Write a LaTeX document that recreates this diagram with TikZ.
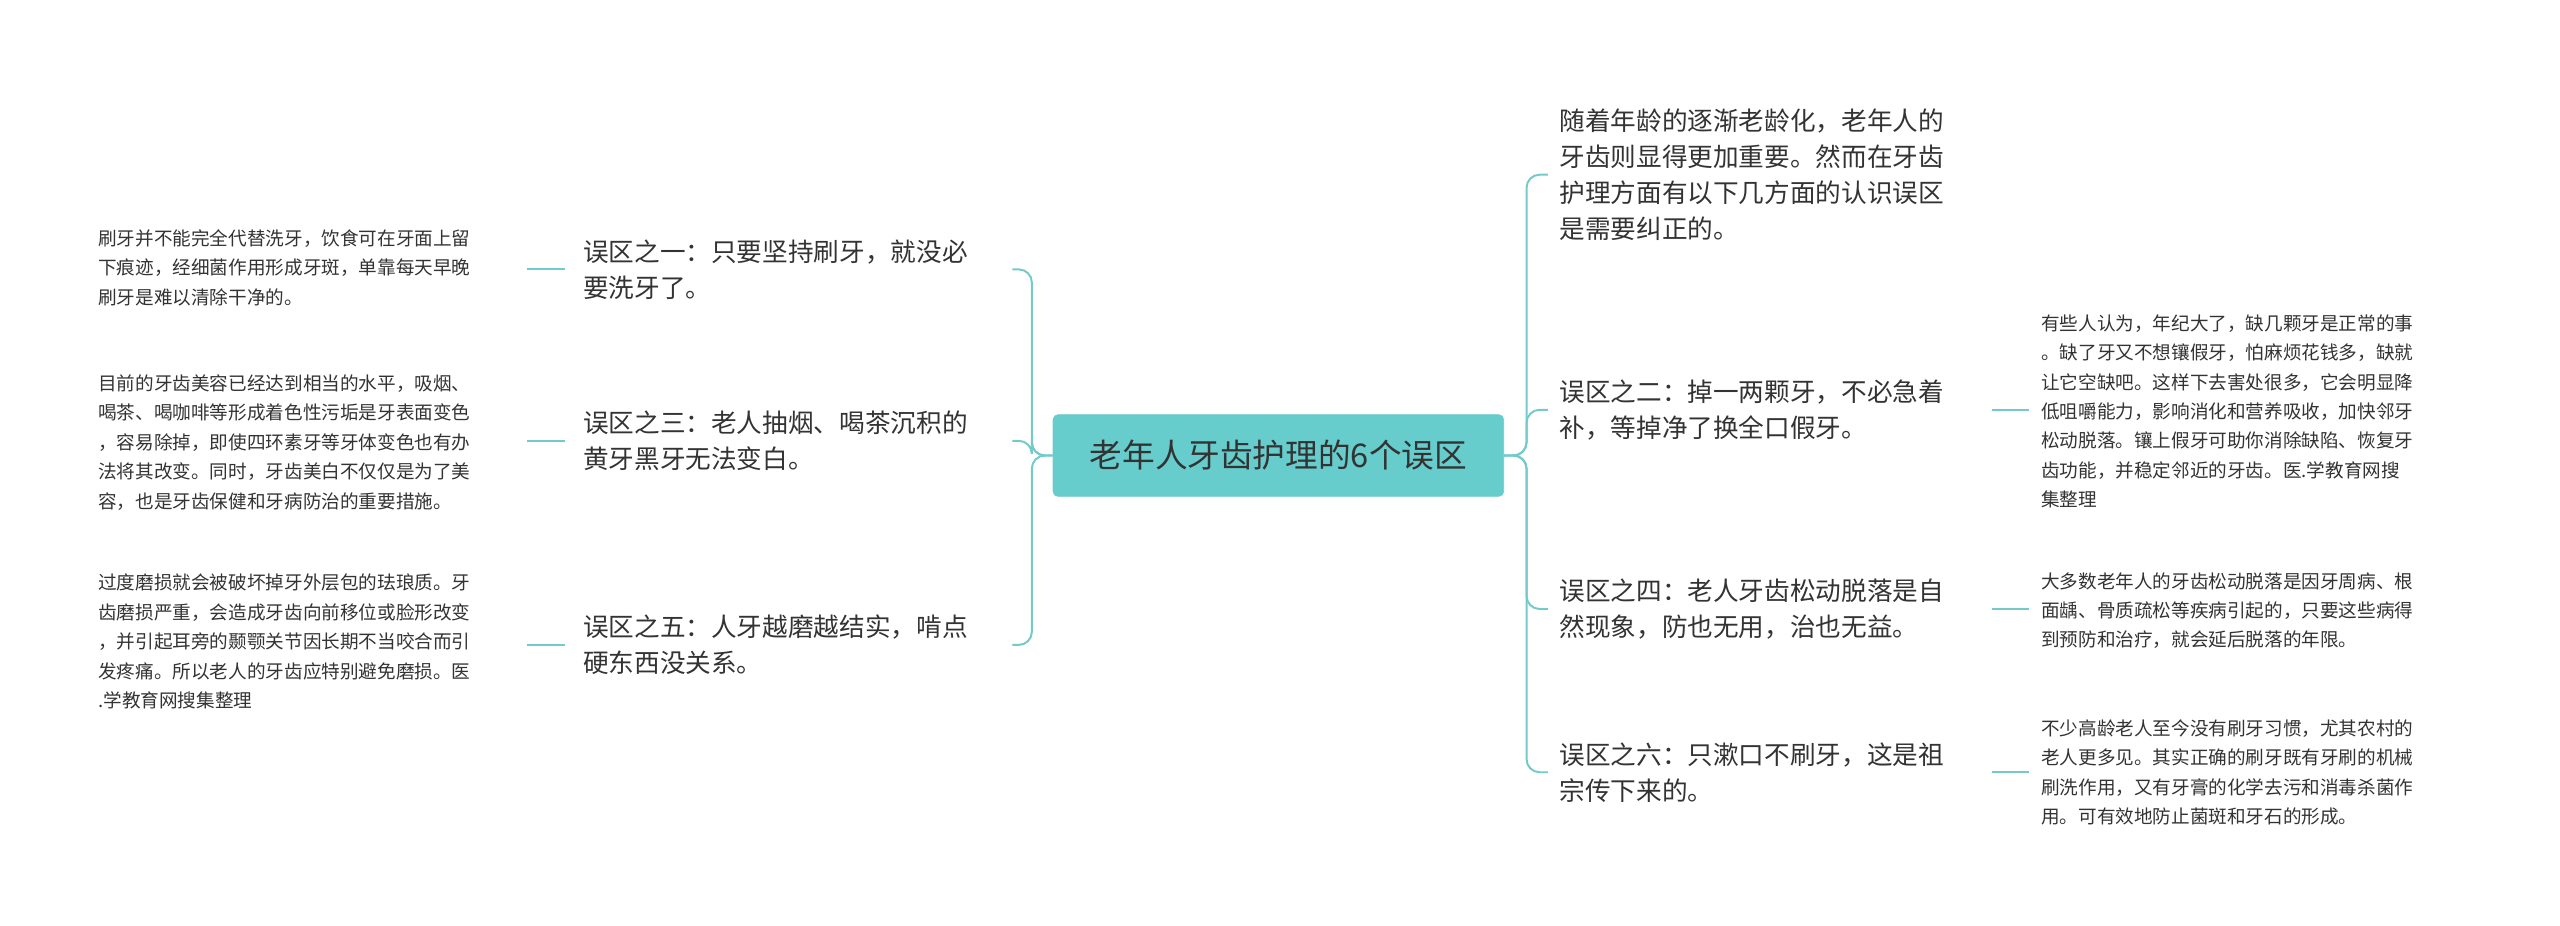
\documentclass[tikz,border=0pt]{standalone}
\usepackage{fontspec}
\setmainfont{Noto Sans CJK SC}
\definecolor{teal1}{HTML}{66CCCC}
\definecolor{line1}{HTML}{72CACA}
\definecolor{txt}{HTML}{333333}
\begin{document}
\begin{tikzpicture}[x=1pt,y=-1pt,
  br/.style={inner sep=0pt,align=left,text=txt,font=\fontsize{15.7}{22}\selectfont},
  lf/.style={inner sep=0pt,align=left,text=txt,font=\fontsize{11.4}{18}\selectfont},
  ln/.style={draw=line1,line width=1.2pt,rounded corners=8pt},
  st/.style={draw=line1,line width=1.2pt}]
\useasboundingbox (0,0) rectangle (1568,567);
\fill[white] (0,0) rectangle (1568,567);
\node[fill=teal1,draw=line1,rounded corners=3pt,minimum width=276pt,minimum height=50pt,inner sep=0pt,font=\fontsize{20}{22}\selectfont,text=txt] (c) at (783,279) {老年人牙齿护理的6个误区};
% left branches
\node[br,anchor=west] (b1) at (357,165) {误区之一：只要坚持刷牙，就没必\\要洗牙了。};
\node[br,anchor=west] (b3) at (357,270) {误区之三：老人抽烟、喝茶沉积的\\黄牙黑牙无法变白。};
\node[br,anchor=west] (b5) at (357,395) {误区之五：人牙越磨越结实，啃点\\硬东西没关系。};
% right branches
\node[br,anchor=west] (r0) at (955,107) {随着年龄的逐渐老龄化，老年人的\\牙齿则显得更加重要。然而在牙齿\\护理方面有以下几方面的认识误区\\是需要纠正的。};
\node[br,anchor=west] (r2) at (955,251) {误区之二：掉一两颗牙，不必急着\\补，等掉净了换全口假牙。};
\node[br,anchor=west] (r4) at (955,373) {误区之四：老人牙齿松动脱落是自\\然现象，防也无用，治也无益。};
\node[br,anchor=west] (r6) at (955,473) {误区之六：只漱口不刷牙，这是祖\\宗传下来的。};
% left leaves
\node[lf,anchor=west] (l1) at (60,164) {刷牙并不能完全代替洗牙，饮食可在牙面上留\\下痕迹，经细菌作用形成牙斑，单靠每天早晚\\刷牙是难以清除干净的。};
\node[lf,anchor=west] (l3) at (60,271) {目前的牙齿美容已经达到相当的水平，吸烟、\\喝茶、喝咖啡等形成着色性污垢是牙表面变色\\，容易除掉，即使四环素牙等牙体变色也有办\\法将其改变。同时，牙齿美白不仅仅是为了美\\容，也是牙齿保健和牙病防治的重要措施。};
\node[lf,anchor=west] (l5) at (60,393) {过度磨损就会被破坏掉牙外层包的珐琅质。牙\\齿磨损严重，会造成牙齿向前移位或脸形改变\\，并引起耳旁的颞颚关节因长期不当咬合而引\\发疼痛。所以老人的牙齿应特别避免磨损。医\\.学教育网搜集整理};
% right leaves
\node[lf,anchor=west] (q2) at (1250,252) {有些人认为，年纪大了，缺几颗牙是正常的事\\。缺了牙又不想镶假牙，怕麻烦花钱多，缺就\\让它空缺吧。这样下去害处很多，它会明显降\\低咀嚼能力，影响消化和营养吸收，加快邻牙\\松动脱落。镶上假牙可助你消除缺陷、恢复牙\\齿功能，并稳定邻近的牙齿。医.学教育网搜\\集整理};
\node[lf,anchor=west] (q4) at (1250,374) {大多数老年人的牙齿松动脱落是因牙周病、根\\面龋、骨质疏松等疾病引起的，只要这些病得\\到预防和治疗，就会延后脱落的年限。};
\node[lf,anchor=west] (q6) at (1250,473) {不少高龄老人至今没有刷牙习惯，尤其农村的\\老人更多见。其实正确的刷牙既有牙刷的机械\\刷洗作用，又有牙膏的化学去污和消毒杀菌作\\用。可有效地防止菌斑和牙石的形成。};
% connectors center -> branches
\foreach \b/\y in {b1/165,b3/270,b5/395}{
  \draw[ln] (c.west) -- (632,279) -- (632,\y) -- (620,\y);}
\foreach \b/\y in {r0/107,r2/251,r4/373,r6/473}{
  \draw[ln] (c.east) -- (935,279) -- (935,\y) -- (948,\y);}
% branch -> leaves
\draw[st] (323,165) -- (346,165);
\draw[st] (323,270) -- (346,270);
\draw[st] (323,395) -- (346,395);
\draw[st] (1220,251) -- (1243,251);
\draw[st] (1220,373) -- (1243,373);
\draw[st] (1220,473) -- (1243,473);
\end{tikzpicture}
\end{document}
